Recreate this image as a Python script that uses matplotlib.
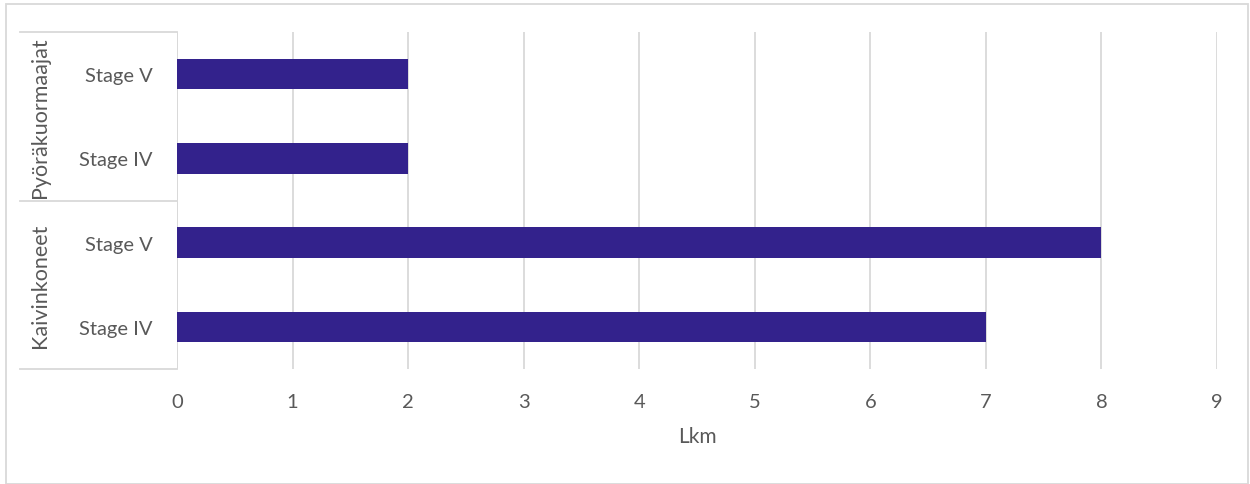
import matplotlib.pyplot as plt
from matplotlib.patches import Rectangle

# data
groups = ['Kaivinkoneet', 'Pyöräkuormaajat']
stages = ['Stage IV', 'Stage V', 'Stage IV', 'Stage V']
values = [7, 8, 2, 2]
x_ticks = list(range(0, 10))

plt.rcParams['font.family'] = ['Lato', 'DejaVu Sans']

fig = plt.figure(figsize=(12.5, 4.85), dpi=100)
ax = fig.add_axes([177 / 1250, 1 - 370 / 485, (1217 - 177) / 1250, (370 - 33) / 485])

pos = list(range(len(values)))
ax.barh(pos, values, height=0.36, color='#33228C', zorder=3)

ax.set_xlim(0, 9)
ax.set_ylim(-0.5, len(values) - 0.5)
ax.set_xticks(x_ticks)
ax.set_yticks(pos)
ax.set_yticklabels(stages)
ax.tick_params(axis='both', length=0, labelsize=14.5, labelcolor='#595959')
ax.tick_params(axis='x', pad=17)
ax.tick_params(axis='y', pad=17.5)
ax.grid(axis='x', color='#D9D9D9', linewidth=1.3, zorder=0)
for s in ax.spines.values():
    s.set_visible(False)
ax.axvline(0, color='#D9D9D9', linewidth=1.3, zorder=1)

ax.set_xlabel('Lkm', fontsize=15, color='#595959', labelpad=12)

# group separators and labels on the left
tr = ax.get_yaxis_transform()
left = -(177 - 20) / (1217 - 177)
for y in [-0.5, 1.5, 3.5]:
    ax.plot([left, 0], [y, y], transform=tr, color='#D9D9D9', linewidth=1.3, clip_on=False)
for i, g in enumerate(groups):
    ax.text(-(177 - 40) / (1217 - 177), 2 * i + 0.5, g, transform=tr, rotation=90,
            ha='center', va='center', fontsize=15.5, color='#595959')

# outer chart border
fig.patches.append(Rectangle((6 / 1250, 0), 1242 / 1250, 1 - 5 / 485, transform=fig.transFigure,
                             fill=False, edgecolor='#D9D9D9', linewidth=1.3))

fig.savefig('out.png', dpi=100)
